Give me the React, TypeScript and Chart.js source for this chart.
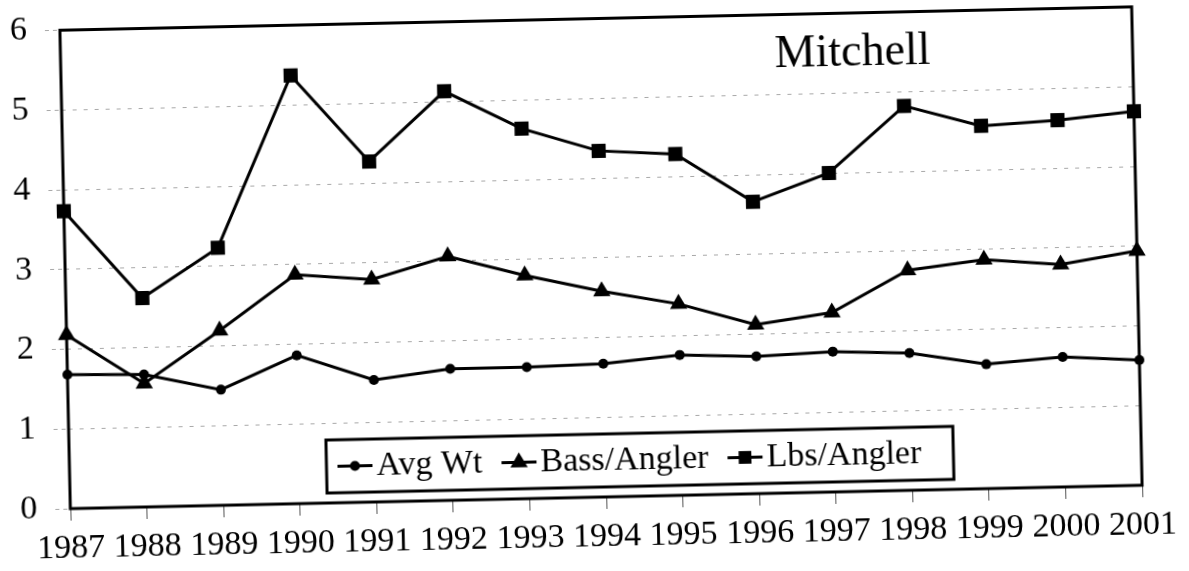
import React, { useEffect, useRef } from 'react';
import { Chart, registerables } from 'chart.js';

Chart.register(...registerables);

const years = ['1987', '1988', '1989', '1990', '1991', '1992', '1993', '1994', '1995', '1996', '1997', '1998', '1999', '2000', '2001'];
const avgWt = [1.68, 1.66, 1.45, 1.86, 1.53, 1.65, 1.65, 1.67, 1.76, 1.72, 1.76, 1.72, 1.56, 1.63, 1.57];
const bassPerAngler = [2.18, 1.55, 2.19, 2.87, 2.79, 3.06, 2.8, 2.58, 2.4, 2.12, 2.25, 2.76, 2.87, 2.79, 2.94];
const lbsPerAngler = [3.73, 2.62, 3.23, 5.37, 4.27, 5.13, 4.64, 4.34, 4.28, 3.66, 4.0, 4.82, 4.55, 4.6, 4.69];
const yTicks = [0, 1, 2, 3, 4, 5, 6];
const seriesLabels = ['Avg Wt', 'Bass/Angler', 'Lbs/Angler'];
const chartTitle = 'Mitchell';

const FONT = '"Liberation Serif", "Times New Roman", serif';

function drawMarker(ctx: CanvasRenderingContext2D, style: string, x: number, y: number, r: number) {
  ctx.beginPath();
  if (style === 'circle') {
    ctx.arc(x, y, r, 0, Math.PI * 2);
  } else if (style === 'triangle') {
    for (let i = 0; i < 3; i++) {
      const a = (i * 2 * Math.PI) / 3;
      const px = x + Math.sin(a) * r;
      const py = y - Math.cos(a) * r;
      if (i === 0) ctx.moveTo(px, py);
      else ctx.lineTo(px, py);
    }
    ctx.closePath();
  } else {
    const s = Math.SQRT1_2 * r;
    ctx.rect(x - s, y - s, 2 * s, 2 * s);
  }
  ctx.fill();
}

const framePlugin = {
  id: 'frameTitleLegend',
  afterDatasetsDraw(chart: any) {
    const { ctx, chartArea: a } = chart;
    ctx.save();
    // plot frame
    ctx.strokeStyle = '#000';
    ctx.lineWidth = 3;
    ctx.strokeRect(a.left, a.top, a.right - a.left, a.bottom - a.top);

    // title inside plot
    ctx.fillStyle = '#000';
    ctx.font = `46px ${FONT}`;
    ctx.textAlign = 'left';
    ctx.textBaseline = 'alphabetic';
    ctx.fillText(chartTitle, a.left + 714, a.top + 52);

    // legend box
    const legLeft = a.left + 257;
    const legH = 53;
    const legBottom = a.bottom - 10;
    const legTop = legBottom - legH;
    ctx.font = `34px ${FONT}`;
    let x = legLeft + 11;
    const cy = legTop + legH / 2;
    const items = chart.data.datasets;
    let endX = x;
    items.forEach((ds: any) => {
      ctx.strokeStyle = '#000';
      ctx.lineWidth = 3;
      ctx.beginPath();
      ctx.moveTo(x, cy);
      ctx.lineTo(x + 35, cy);
      ctx.stroke();
      ctx.fillStyle = '#000';
      drawMarker(ctx, ds.pointStyle, x + 17.5, cy, ds.pointStyle === 'circle' ? 5 : ds.pointStyle === 'triangle' ? 10 : 9);
      ctx.textBaseline = 'middle';
      ctx.fillText(ds.label, x + 39, cy + 1);
      const w = ctx.measureText(ds.label).width;
      endX = x + 39 + w;
      x = endX + 19;
    });
    const legRight = endX + 32;
    ctx.lineWidth = 3;
    ctx.strokeRect(legLeft, legTop, legRight - legLeft, legH);
    ctx.restore();
  },
};

export default function App() {
  const canvasRef = useRef<HTMLCanvasElement | null>(null);

  useEffect(() => {
    if (!canvasRef.current) return;
    Chart.defaults.font.family = FONT;
    const mk = (label: string, data: number[], style: string, r: number) => ({
      label,
      data,
      pointStyle: style,
      pointRadius: r,
      pointHoverRadius: r,
      borderColor: '#000',
      backgroundColor: '#000',
      pointBackgroundColor: '#000',
      pointBorderColor: '#000',
      pointBorderWidth: 0,
      borderWidth: 3,
      tension: 0,
      fill: false,
      clip: false,
    });
    const chart = new Chart(canvasRef.current, {
      type: 'line',
      data: {
        labels: years,
        datasets: [
          mk(seriesLabels[0], avgWt, 'circle', 5),
          mk(seriesLabels[1], bassPerAngler, 'triangle', 10),
          mk(seriesLabels[2], lbsPerAngler, 'rect', 10),
        ],
      },
      options: {
        responsive: false,
        animation: false,
        devicePixelRatio: 1,
        layout: { padding: { left: 0, right: 52, top: 0, bottom: 0 } },
        plugins: {
          legend: { display: false },
          title: { display: false },
          tooltip: { enabled: false },
        },
        scales: {
          x: {
            type: 'category',
            offset: false,
            grid: {
              drawOnChartArea: false,
              drawTicks: true,
              tickLength: 12,
              tickColor: '#555',
              tickWidth: 1,
            },
            border: { display: false },
            ticks: {
              autoSkip: false,
              maxRotation: 0,
              minRotation: 0,
              padding: 8,
              color: '#000',
              font: { size: 34, family: FONT },
            },
            afterFit: (scale: any) => {
              scale.height = 74;
            },
          },
          y: {
            type: 'linear',
            min: 0,
            max: 6,
            afterBuildTicks: (scale: any) => {
              scale.ticks = yTicks.map((v) => ({ value: v }));
            },
            grid: {
              color: '#a8a8a8',
              lineWidth: 1,
              drawTicks: true,
              tickLength: 15,
              tickColor: '#a8a8a8',
              tickBorderDash: [4, 4],
            },
            border: { display: false, dash: [4, 7] },
            ticks: {
              padding: 18,
              color: '#000',
              font: { size: 34, family: FONT, lineHeight: 1.1 },
            },
            afterFit: (scale: any) => {
              scale.width = 65;
              scale.paddingTop = 18.5;
              scale.paddingBottom = 0;
            },
          },
        },
      },
      plugins: [framePlugin],
    });
    return () => chart.destroy();
  }, []);

  return (
    <div
      style={{
        position: 'absolute',
        left: 0,
        top: 0,
        width: 1189,
        height: 571,
        transform: 'rotate(-1.25deg)',
        transformOrigin: '601px 258px',
        background: 'transparent',
      }}
    >
      <canvas ref={canvasRef} width={1189} height={571} style={{ width: 1189, height: 571, display: 'block' }} />
    </div>
  );
}
